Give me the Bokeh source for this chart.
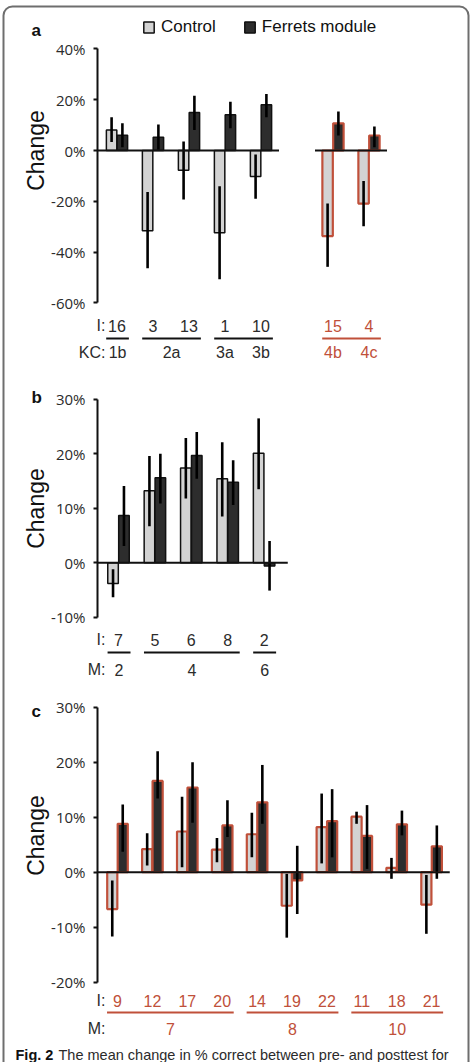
import numpy as np
from bokeh.plotting import figure
from bokeh.models import (Range1d, FixedTicker, Legend, LegendItem,
                          ColumnDataSource, LinearAxis)
from bokeh.embed import file_html
from bokeh.resources import INLINE
from bokeh.core.properties import value

# ---------------- data: panel a ----------------
a_I = ["16", "3", "13", "1", "10", "15", "4"]
a_KC = ["1b", "2a", "2a", "3a", "3b", "4b", "4c"]
a_slot = [0, 1, 2, 3, 4, 6, 7]
a_control = [8.1, -31.6, -7.8, -32.4, -10.2, -33.7, -20.9]
a_control_lo = [3.3, -46.4, -19.3, -50.7, -19.0, -45.8, -29.8]
a_control_hi = [13.1, -16.3, 3.5, -14.1, -1.6, -20.9, -12.0]
a_ferrets = [6.0, 5.2, 15.0, 14.1, 18.0, 10.7, 5.9]
a_ferrets_lo = [1.3, 0.3, 8.1, 8.8, 13.1, 5.9, 1.3]
a_ferrets_hi = [10.7, 10.2, 21.6, 19.2, 22.2, 15.4, 9.4]
a_red = [0, 0, 0, 0, 0, 1, 1]
a_lines = [[0], [1, 2], [3, 4], [5, 6]]
a_baselines = [[0, 1, 2, 3, 4], [5, 6]]
a_ticks = [-60, -40, -20, 0, 20, 40]
a_tick_labels = ["-60%", "-40%", "-20%", "0%", "20%", "40%"]

# ---------------- data: panel b ----------------
b_I = ["7", "5", "6", "8", "2"]
b_M = ["2", "4", "4", "4", "6"]
b_slot = [0, 1, 2, 3, 4]
b_control = [-3.8, 13.2, 17.4, 15.4, 20.1]
b_control_lo = [-6.3, 6.7, 11.8, 8.5, 13.5]
b_control_hi = [-1.2, 19.6, 22.9, 22.1, 26.5]
b_ferrets = [8.7, 15.6, 19.7, 14.8, -0.6]
b_ferrets_lo = [3.1, 10.9, 15.4, 10.6, -5.1]
b_ferrets_hi = [14.1, 20.0, 24.0, 18.8, 4.0]
b_red = [0, 0, 0, 0, 0]
b_lines = [[0], [1, 2, 3], [4]]
b_baselines = [[0, 1, 2, 3, 4]]
b_ticks = [-10, 0, 10, 20, 30]
b_tick_labels = ["-10%", "0%", "10%", "20%", "30%"]

# ---------------- data: panel c ----------------
c_I = ["9", "12", "17", "20", "14", "19", "22", "11", "18", "21"]
c_M = ["7", "7", "7", "7", "8", "8", "8", "10", "10", "10"]
c_slot = [0, 1, 2, 3, 4, 5, 6, 7, 8, 9]
c_control = [-6.7, 4.2, 7.4, 4.1, 6.9, -6.1, 8.2, 10.1, 0.8, -5.9]
c_control_lo = [-11.7, 1.2, 0.9, 1.8, 2.7, -11.9, 1.6, 8.8, -1.2, -11.2]
c_control_hi = [-1.5, 7.1, 13.7, 6.2, 10.8, -0.3, 14.3, 11.0, 2.6, -0.5]
c_ferrets = [8.8, 16.6, 15.4, 8.5, 12.7, -1.5, 9.3, 6.6, 8.7, 4.7]
c_ferrets_lo = [3.7, 13.4, 9.0, 6.4, 8.8, -7.6, 2.7, 0.6, 6.7, -1.2]
c_ferrets_hi = [12.3, 22.0, 20.0, 13.1, 19.5, 4.8, 15.1, 12.2, 11.2, 8.5]
c_red = [1] * 10
c_lines = [[0, 1, 2, 3], [4, 5, 6], [7, 8, 9]]
c_baselines = [[0, 1, 2, 3, 4, 5, 6, 7, 8, 9]]
c_ticks = [-20, -10, 0, 10, 20, 30]
c_tick_labels = ["-20%", "-10%", "0%", "10%", "20%", "30%"]

series_names = ["Control", "Ferrets module"]
y_title = "Change"
caption_bold = "Fig. 2"
caption_text = "The mean change in % correct between pre- and posttest for"

# ---------------- styles / layout ----------------
W, H = 471, 1062
LIGHT = "#d3d3d3"
DARK = "#2d2d2d"
RED = "#c0503a"
INK = "#111111"
TXT = "#2b2b2b"
FRAME = "#6e6e6e"
LAB_FONT = "Liberation Sans"
TICK_FONT = "Open Sans"
AXIS_X = 97          # page x of the value axes
ROW_HEAD_X = 105     # right edge of "I:", "KC:", "M:"

p = figure(width=W, height=H, output_backend="svg", toolbar_location=None,
           x_axis_type=None, y_axis_type=None,
           x_range=Range1d(0, W), y_range=Range1d(H, 0),
           min_border=0, min_border_left=0, min_border_right=0,
           min_border_top=0, min_border_bottom=0,
           outline_line_color=None, background_fill_color="white",
           border_fill_color="white")

# rounded outer frame of the figure box
p.quad(left=[3], right=[W - 3], top=[6], bottom=[H + 30], fill_color=None,
       line_color=FRAME, line_width=2, border_radius=9)


def add_panel(tag, zero_px, px_pct, first_px, slot_px, slots, I, cat, cat_name,
              ctrl, clo, chi, fer, flo, fhi, red, lines, baselines, tail,
              ticks, tick_labels, letter, letter_y, title_y,
              row_I_y, row_line_y, row_cat_y):
    xs = np.array(slots, dtype=float)
    n = len(xs)
    xr, yr = tag + "x", tag + "y"

    def xv(px):
        return (px - first_px) / slot_px

    def yv(py):
        return (zero_px - py) / px_pct

    p.extra_x_ranges = {**p.extra_x_ranges, xr: Range1d(xv(0), xv(W))}
    p.extra_y_ranges = {**p.extra_y_ranges, yr: Range1d(yv(H), yv(0))}
    kw = dict(x_range_name=xr, y_range_name=yr)

    ax = LinearAxis(y_range_name=yr, fixed_location=AXIS_X,
                    ticker=FixedTicker(ticks=ticks), bounds=(min(ticks), max(ticks)),
                    major_label_overrides={t: l for t, l in zip(ticks, tick_labels)},
                    axis_line_width=2, axis_line_color=INK,
                    major_tick_line_width=2, major_tick_line_color=INK,
                    major_tick_out=4, major_tick_in=0, minor_tick_line_color=None,
                    major_label_text_font=TICK_FONT, major_label_text_font_size="15px",
                    major_label_text_color=TXT, major_label_standoff=8)
    p.add_layout(ax, "left")

    src = ColumnDataSource(dict(
        xc=xs - 0.15, xf=xs + 0.15,
        c=ctrl, clo=clo, chi=chi, f=fer, flo=flo, fhi=fhi,
        lc=[RED if r else INK for r in red],
        lw=[2.2 if r else 1.5 for r in red]))
    rc = p.vbar(x="xc", top="c", bottom=0, width=0.29, fill_color=LIGHT,
                line_color="lc", line_width="lw", source=src, **kw)
    rf = p.vbar(x="xf", top="f", bottom=0, width=0.29, fill_color=DARK,
                line_color="lc", line_width="lw", source=src, **kw)
    p.segment(x0="xc", y0="clo", x1="xc", y1="chi", line_width=2.6,
              line_color="black", source=src, **kw)
    p.segment(x0="xf", y0="flo", x1="xf", y1="fhi", line_width=2.6,
              line_color="black", source=src, **kw)

    # zero baselines
    bx0, bx1 = [], []
    for k, grp in enumerate(baselines):
        bx0.append(xs[grp[0]] - 0.5 if k else xv(AXIS_X))
        bx1.append(xs[grp[-1]] + tail)
    p.segment(x0=bx0, y0=[0] * len(bx0), x1=bx1, y1=[0] * len(bx0),
              line_width=2, line_color=INK, **kw)

    # item numbers under each pair of bars
    p.text(x=xs, y=[yv(row_I_y)] * n, text=I, text_align="center",
           text_baseline="middle", text_font=value(LAB_FONT), text_font_size="16px",
           text_color=[RED if r else TXT for r in red], **kw)

    # group lines and group labels
    lx0, lx1, lcol, cx, ct, ccol = [], [], [], [], [], []
    for grp in lines:
        x0 = xs[grp[0]] - 0.3
        x1 = xs[grp[-1]] + 0.33
        is_red = red[grp[0]]
        lx0.append(x0)
        lx1.append(x1)
        lcol.append(RED if is_red else INK)
        names = [cat[i] for i in grp]
        if len(set(names)) == 1:
            cx.append((x0 + x1) / 2)
            ct.append(names[0])
            ccol.append(RED if is_red else TXT)
        else:
            for i in grp:
                cx.append(xs[i])
                ct.append(cat[i])
                ccol.append(RED if is_red else TXT)
    ly = yv(row_line_y)
    p.segment(x0=lx0, y0=[ly] * len(lx0), x1=lx1, y1=[ly] * len(lx0),
              line_width=2, line_color=lcol, **kw)
    p.text(x=cx, y=[yv(row_cat_y)] * len(cx), text=ct, text_align="center",
           text_baseline="middle", text_font=value(LAB_FONT), text_font_size="16px",
           text_color=ccol, **kw)

    # row headers, panel letter, y title (page layout positions)
    p.text(x=[ROW_HEAD_X, ROW_HEAD_X], y=[row_I_y, row_cat_y],
           text=["I:", cat_name + ":"], text_align="right", text_baseline="middle",
           text_font=value(LAB_FONT), text_font_size="16px", text_color=TXT)
    p.text(x=[31], y=[letter_y], text=[letter], text_align="left",
           text_baseline="middle", text_font=value(LAB_FONT), text_font_size="17px",
           text_font_style="bold", text_color=INK)
    p.text(x=[35], y=[title_y], text=[y_title], angle=np.pi / 2,
           text_align="center", text_baseline="middle",
           text_font=value(LAB_FONT), text_font_size="23px", text_color=INK)
    return rc, rf


rca, rfa = add_panel("a", 150, 2.54, 116.5, 36.0, a_slot, a_I, a_KC, "KC",
                     a_control, a_control_lo, a_control_hi,
                     a_ferrets, a_ferrets_lo, a_ferrets_hi,
                     a_red, a_lines, a_baselines, 0.5, a_ticks, a_tick_labels,
                     "a", 30, 150, 325, 338, 352)
add_panel("b", 562.3, 5.45, 118.0, 36.4, b_slot, b_I, b_M, "M",
          b_control, b_control_lo, b_control_hi,
          b_ferrets, b_ferrets_lo, b_ferrets_hi,
          b_red, b_lines, b_baselines, 0.65, b_ticks, b_tick_labels,
          "b", 397, 508, 639, 652, 669)
add_panel("c", 871.7, 5.5, 117.0, 34.9, c_slot, c_I, c_M, "M",
          c_control, c_control_lo, c_control_hi,
          c_ferrets, c_ferrets_lo, c_ferrets_hi,
          c_red, c_lines, c_baselines, 0.52, c_ticks, c_tick_labels,
          "c", 711, 835, 1000, 1012, 1028)

legend = Legend(items=[LegendItem(label=series_names[0], renderers=[rca], index=0),
                       LegendItem(label=series_names[1], renderers=[rfa], index=0)],
                orientation="horizontal", location=(142, H - 37), padding=0, margin=0,
                spacing=27, label_standoff=6, glyph_width=13, glyph_height=14,
                label_text_font=LAB_FONT, label_text_font_size="17px",
                label_text_color=INK, border_line_alpha=0, background_fill_alpha=0)
p.add_layout(legend)

# caption line at the foot of the box
p.text(x=[15], y=[1054], text=[caption_bold], text_font=value(LAB_FONT),
       text_font_size="14.5px", text_font_style="bold", text_color=INK,
       text_baseline="alphabetic", text_align="left")
p.text(x=[58], y=[1054], text=[caption_text], text_font=value(LAB_FONT),
       text_font_size="14.5px", text_color=TXT,
       text_baseline="alphabetic", text_align="left")

open("out.html", "w").write(file_html(p, INLINE))
